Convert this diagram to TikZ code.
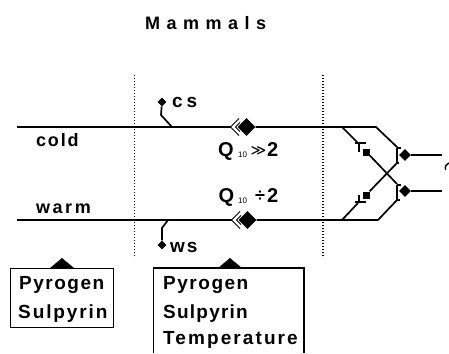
\documentclass[tikz,border=0pt]{standalone}
\usepackage{fontspec}
\setmainfont{Liberation Sans}
\newfontfamily\symfont{DejaVu Sans}
\usetikzlibrary{shapes.geometric}
\tikzset{
 wire/.style={line width=1.7pt,line join=round},
 wirethick/.style={line width=2.2pt},
 dots/.style={line width=1.2pt,dash pattern=on 1.2pt off 1.8pt},
 lab/.style={font=\bfseries\fontsize{19}{21}\selectfont,inner sep=0pt,anchor=base west},
 midlab/.style={font=\bfseries\fontsize{18}{20}\selectfont,inner sep=0pt,anchor=base west},
 qlab/.style={font=\bfseries\fontsize{20}{22}\selectfont,inner sep=0pt,anchor=base west},
 sub/.style={font=\fontsize{8}{9}\selectfont,inner sep=0pt,anchor=base west},
 dia/.style={diamond,fill=black,inner sep=0pt,minimum width=#1,minimum height=#1},
 sq/.style={rectangle,fill=black,inner sep=0pt,minimum size=7pt},
 chev/.style={line width=1pt,line join=miter},
 box/.style={draw,line width=1.1pt,inner sep=0pt,anchor=north west},
 tri/.style={fill=black},
}
\begin{document}
\begin{tikzpicture}[x=1pt,y=-1pt]
\useasboundingbox (0,0) rectangle (449,353);
\node[midlab] (title) at (145,30) {\addfontfeature{LetterSpace=36}Mammals};
% dotted
\coordinate (d1a) at (134.5,75); \coordinate (d1b) at (134.5,258);
\coordinate (d2a) at (323,75); \coordinate (d2b) at (323,258);
\draw[dots] (d1a) -- (d1b);
\draw[dots] (d2a) -- (d2b);
% main nodes
\node[dia=18pt] (dc) at (246.5,127) {};
\node[dia=18pt] (dw) at (247.5,220) {};
\node[dia=9pt] (cs) at (162,102) {};
\node[dia=9pt] (ws) at (162,245) {};
\node[sq] (s1) at (366.5,152) {};
\node[sq] (s2) at (366,195) {};
\node[dia=12pt] (d1) at (405,155) {};
\node[dia=12pt] (d2) at (405,191) {};
\coordinate (l1) at (17,127); \coordinate (l2) at (17,220);
\coordinate (r1) at (442,155); \coordinate (r2) at (442,191);
% main wires
\draw[wire] (l1) -- (231,127);
\draw[wire] (dc) -- (376,127) -- (398,148);
\draw[wire] (l2) -- (232,220);
\draw[wire] (dw) -- (378,220) -- (397,200);
\draw[wire] (342,127) -- (358,143);
\draw[wire] (342,220) -- (358,203);
\draw[wire] (s1) -- (397,184);
\draw[wire] (s2) -- (397,163);
\draw[wirethick] (d1) -- (r1);
\draw[wirethick] (d2) -- (r2);
\draw[wire] (cs) -- (161,115) -- (172,127);
\draw[wire] (ws) -- (162,228) -- (168,220);
% chevrons at central diamonds
\draw[chev] (239,118.5) -- (230.5,127) -- (239,135.5);
\draw[chev] (240,122.5) -- (235.5,127) -- (240,131.5);
\draw[chev] (240,211.5) -- (231.5,220) -- (240,228.5);
\draw[chev] (241,215.5) -- (236.5,220) -- (241,224.5);
% inhibitor bars
\draw[line width=1.1pt] (366,143) -- (355,143) (359,143) -- (359,152);
\draw[line width=1.1pt] (366,202) -- (355,202) (359,203) -- (359,195);
\draw[line width=1.1pt] (397,148) -- (397,163) (397,148) -- (401,148) (397,163) -- (399,163);
\draw[line width=1.1pt] (397,185) -- (397,200) (397,185) -- (401,185) (397,200) -- (400,200);
\draw[line width=1.4pt] (445.5,170) .. controls (445,166) and (446,164) .. (449,163);
% labels
\node[midlab] (lc) at (36,146) {\addfontfeature{LetterSpace=10}cold};
\node[midlab] (lw) at (36,213) {\addfontfeature{LetterSpace=14}warm};
\node[lab] (lcs) at (172,107) {\addfontfeature{LetterSpace=20}cs};
\node[lab] (lws) at (170,252) {\addfontfeature{LetterSpace=10}ws};
\node[qlab] (q1) at (218,156) {Q};
\node[sub] (q1s) at (238,157) {10};
\node[qlab,font=\symfont\fontsize{15}{17}\selectfont] (q1o) at (250.5,155) {≫};
\node[qlab] (q1n) at (267,156) {2};
\node[qlab] (q2) at (218.5,202) {Q};
\node[sub] (q2s) at (238,203) {10};
\node[qlab] (q2o) at (255,201) {\addfontfeature{Scale=0.9}÷};
\node[qlab] (q2n) at (267,202) {2};
% boxes
\node[box,minimum width=103pt,minimum height=59pt] (b1) at (10,268) {};
\node[lab] (p1) at (19,289) {\addfontfeature{LetterSpace=8}Pyrogen};
\node[lab] (s1t) at (18,318) {\addfontfeature{LetterSpace=10}Sulpyrin};
\draw[line width=1.1pt] (153.5,353) -- (153.5,268) -- (304,268) -- (304,353);
\node[lab] (p2) at (163,289) {\addfontfeature{LetterSpace=8}Pyrogen};
\node[lab] (s2t) at (163,318) {\addfontfeature{LetterSpace=6.5}Sulpyrin};
\node[lab] (t2) at (163,344) {\addfontfeature{LetterSpace=11}Temperature};
\fill[tri] (50,268) -- (62,258) -- (74,268) -- cycle;
\fill[tri] (218,268) -- (230,258) -- (242,268) -- cycle;
\end{tikzpicture}
\end{document}
